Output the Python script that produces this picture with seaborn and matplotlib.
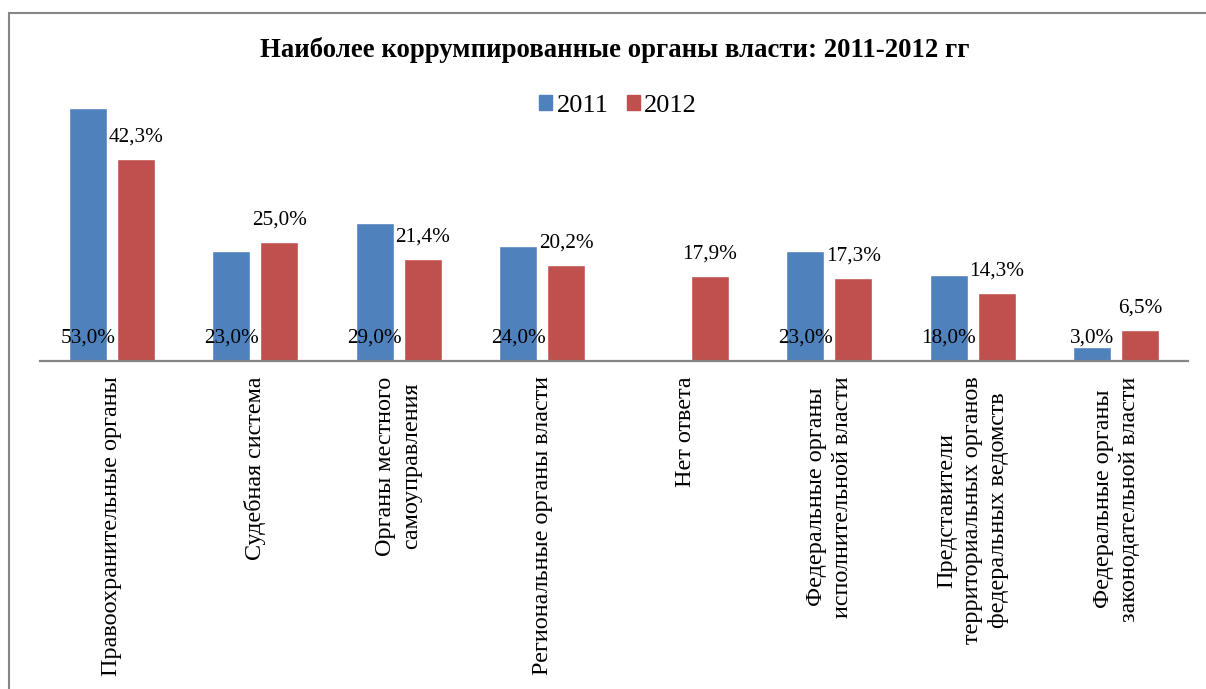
import numpy as np
import pandas as pd
import seaborn as sns
import matplotlib.pyplot as plt
from matplotlib.patches import Rectangle

categories = [
    "Правоохранительные органы",
    "Судебная система",
    "Органы местного\nсамоуправления",
    "Региональные органы власти",
    "Нет ответа",
    "Федеральные органы\nисполнительной власти",
    "Представители\nтерриториальных органов\nфедеральных ведомств",
    "Федеральные органы\nзаконодательной власти",
]
values_2011 = [53.0, 23.0, 29.0, 24.0, np.nan, 23.0, 18.0, 3.0]
values_2012 = [42.3, 25.0, 21.4, 20.2, 17.9, 17.3, 14.3, 6.5]
years = ["2011", "2012"]
colors = ["#4F81BD", "#C0504D"]
title = "Наиболее коррумпированные органы власти: 2011-2012 гг"

df = pd.DataFrame({
    "category": categories * 2,
    "year": [years[0]] * len(categories) + [years[1]] * len(categories),
    "value": values_2011 + values_2012,
})

sns.set_style("white")
plt.rcParams["font.family"] = ["Liberation Serif", "DejaVu Serif"]
plt.rcParams["text.color"] = "black"
plt.rcParams["xtick.color"] = "black"

W, H = 1206, 689
fig = plt.figure(figsize=(W / 100, H / 100), dpi=100)
ax = fig.add_axes([40 / W, (H - 361) / H, (1188 - 40) / W, (361 - 108) / H])

sns.barplot(data=df, x="category", y="value", hue="year", order=categories,
            hue_order=years, palette=colors, width=0.67, gap=0.21,
            saturation=1, ax=ax)

ax.get_legend().remove()
ax.set_xlim(-0.5, len(categories) - 0.5)
ax.set_ylim(0, 53)
ax.set_xlabel("")
ax.set_ylabel("")
ax.set_yticks([])
for s in ["top", "right", "left"]:
    ax.spines[s].set_visible(False)
ax.spines["bottom"].set_color("#868686")
ax.spines["bottom"].set_linewidth(1.6)
ax.tick_params(axis="x", length=0, pad=11, labelsize=17.4, labelcolor="black")
for lab in ax.get_xticklabels():
    lab.set_rotation(90)
    lab.set_multialignment("center")
    lab.set_linespacing(1.3)
    lab.set_va("top")
    lab.set_ha("center")

fmt = lambda v: f"{v:.1f}%".replace(".", ",")

# 2011: labels at the bar base, 2012: labels above the bar
for bar in ax.containers[0]:
    h = bar.get_height()
    if np.isnan(h) or h == 0:
        continue
    ax.annotate(fmt(h), (bar.get_x() + bar.get_width() / 2, 0),
                xytext=(0, 23), textcoords="offset pixels",
                ha="center", va="center", fontsize=15.3, clip_on=False)
for bar in ax.containers[1]:
    h = bar.get_height()
    if np.isnan(h):
        continue
    ax.annotate(fmt(h), (bar.get_x() + bar.get_width() / 2, h),
                xytext=(0, 22), textcoords="offset pixels",
                ha="center", va="center", fontsize=15.3, clip_on=False)

fig.text(615 / W, (H - 50) / H, title, ha="center", va="center",
         fontsize=19.3, fontweight="bold")

handles = [Rectangle((0, 0), 1, 1, color=c) for c in colors]
fig.legend(handles, years, loc="center", bbox_to_anchor=(618 / W, (H - 106) / H),
           ncol=2, frameon=False, fontsize=19, handlelength=0.5, handleheight=0.5,
           handletextpad=0.15, columnspacing=0.7)

# chart area border (only top and left visible)
fig.add_artist(Rectangle((9 / W, -0.1), 1.2, (H - 13) / H + 0.1, transform=fig.transFigure,
                         fill=False, ec="#868686", lw=1.5))

fig.savefig("out.png", dpi=100, facecolor="white")
